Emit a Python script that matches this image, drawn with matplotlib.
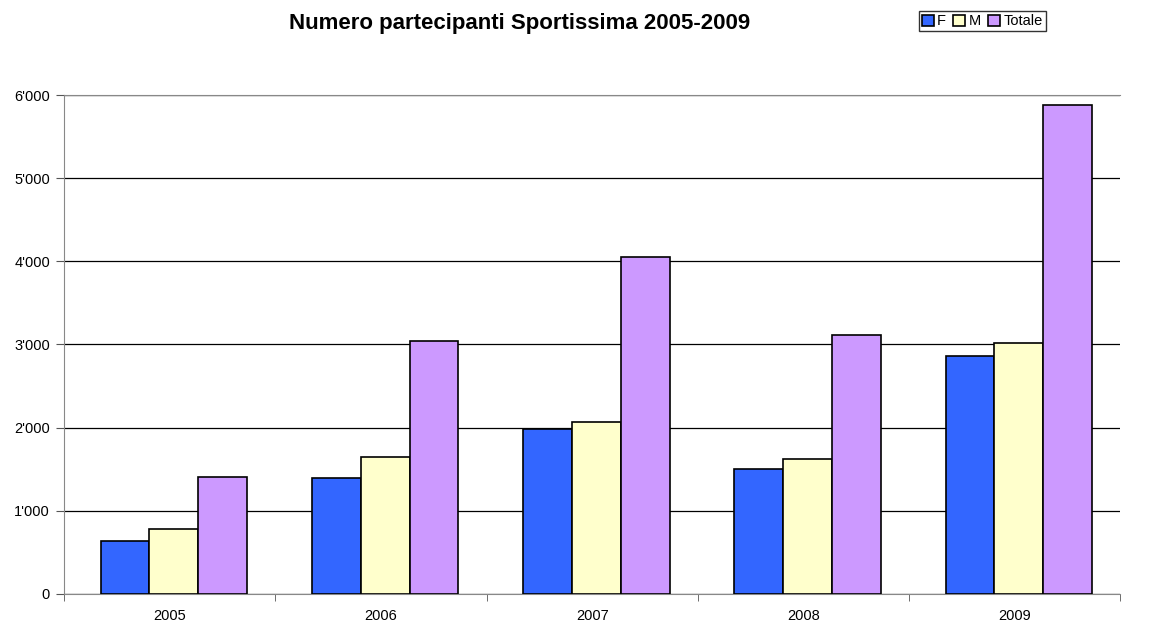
import numpy as np
import matplotlib
matplotlib.use("Agg")
import matplotlib.pyplot as plt
from matplotlib.ticker import FuncFormatter

plt.rcParams["font.family"] = ["Liberation Sans", "DejaVu Sans"]

years = ["2005", "2006", "2007", "2008", "2009"]
f_vals = [635, 1400, 1983, 1499, 2857]
m_vals = [778, 1647, 2067, 1623, 3017]
tot_vals = [1403, 3040, 4050, 3109, 5877]

series = [("F", f_vals, "#3366ff"), ("M", m_vals, "#ffffcc"), ("Totale", tot_vals, "#cc99ff")]

fig = plt.figure(figsize=(11.49, 6.23), dpi=100)
ax = fig.add_axes([0.0557, 0.0466, 0.9193, 0.8009])

x = np.arange(len(years))
w = 0.231
for i, (name, vals, col) in enumerate(series):
    ax.bar(x + (i - 1) * w + 0.02, vals, width=w, color=col, edgecolor="black",
           linewidth=1.2, label=name, zorder=3)

ax.set_xlim(-0.5, len(years) - 0.5)
ax.set_ylim(0, 6000)
ax.set_yticks(np.arange(0, 6001, 1000))
ax.yaxis.set_major_formatter(FuncFormatter(lambda v, p: f"{int(v):,}".replace(",", "'")))
ax.yaxis.grid(True, color="black", linewidth=0.9, zorder=0)

ax.set_xticks(x)
ax.set_xticklabels(years)
ax.set_xticks(np.arange(-0.5, len(years)), minor=True)
ax.tick_params(axis="x", which="major", length=0, labelsize=10.5, pad=11)
ax.tick_params(axis="x", which="minor", length=5, direction="out", color="#555555")
ax.tick_params(axis="y", length=6, direction="out", labelsize=10.5, pad=4,
               color="#555555")

ax.spines["right"].set_visible(False)
ax.spines["top"].set_color("#888888")
ax.spines["left"].set_color("#888888")
ax.spines["bottom"].set_color("#888888")

fig.text(0.452, 0.963, "Numero partecipanti Sportissima 2005-2009", ha="center",
         va="center", fontsize=16, fontweight="bold")

leg = fig.legend(loc="center", bbox_to_anchor=(0.855, 0.966), ncol=3, fontsize=10.5,
                 frameon=True, fancybox=False, edgecolor="black", handlelength=0.8,
                 handleheight=0.8, handletextpad=0.25, columnspacing=0.5,
                 borderpad=0.2)
leg.get_frame().set_linewidth(1.0)

fig.savefig("out.png", dpi=100)
